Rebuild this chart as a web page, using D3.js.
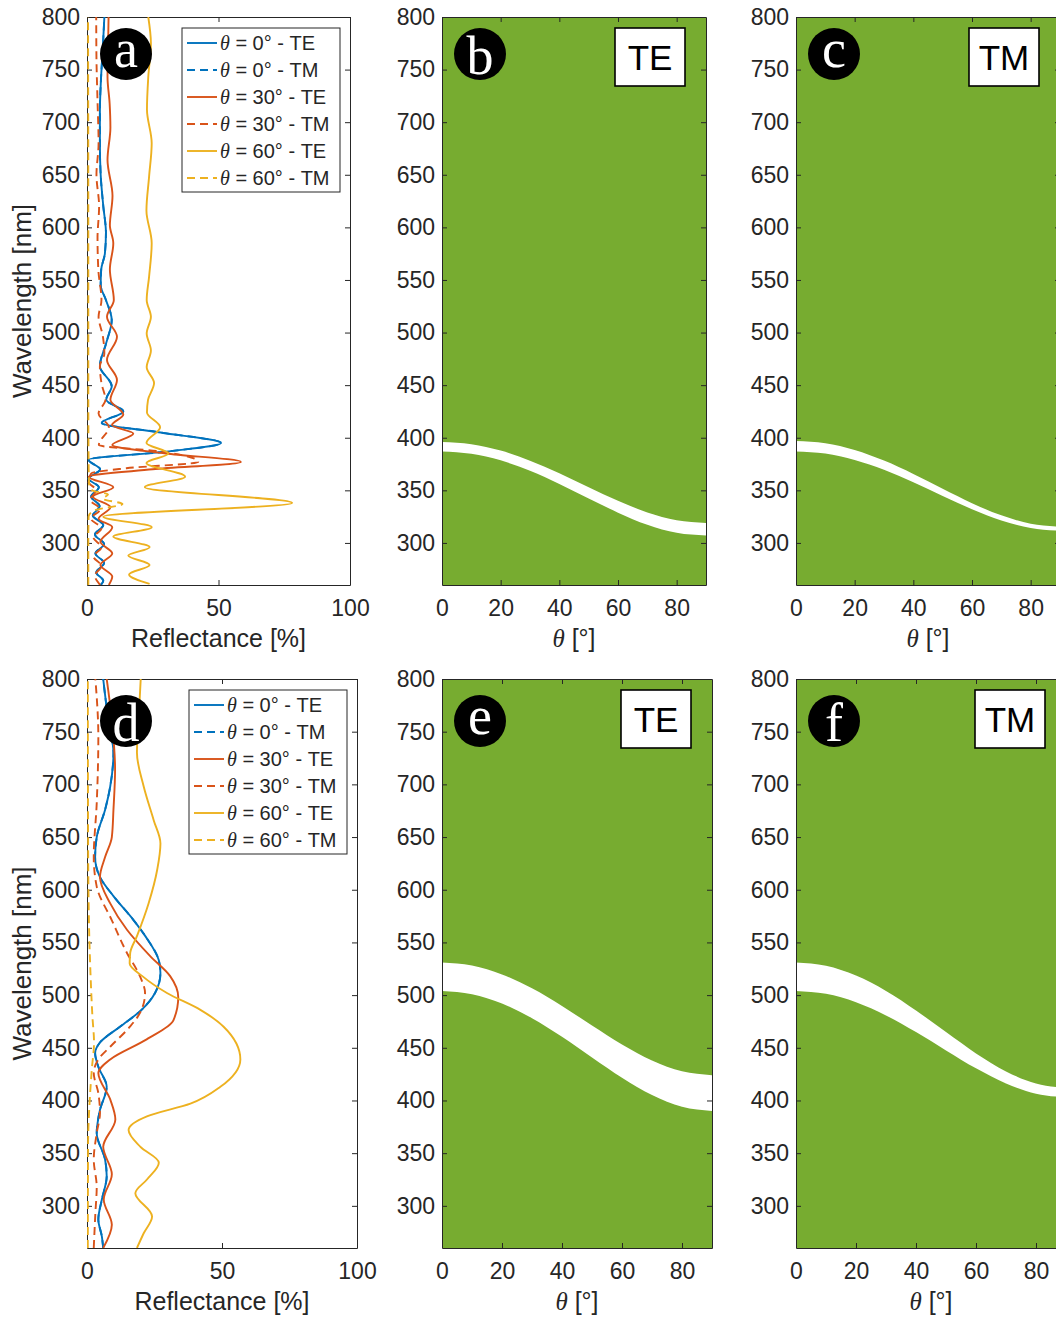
<!DOCTYPE html>
<html>
<head>
<meta charset="utf-8">
<script src="https://cdn.jsdelivr.net/npm/d3@7"></script>
<style>
  body { margin: 0; background: #fff; }
</style>
</head>
<body>
<svg id="fig" width="1056" height="1317"></svg>
<script>
// ---- data ----
const wlTicks = [300, 350, 400, 450, 500, 550, 600, 650, 700, 750, 800];
const reflTicks = [0, 50, 100];
const thetaTicks = [0, 20, 40, 60, 80];
const legendAngles = [0, 0, 30, 30, 60, 60];
const legendPols = ["TE", "TM", "TE", "TM", "TE", "TM"];

// panel a : [wavelength nm, reflectance %]
const a0TE = [[800,6.6],[770,6.0],[740,5.3],[710,4.9],[680,4.9],[650,5.2],[620,6.2],[595,7.2],[575,6.8],[560,5.4],[545,5.2],[531,7.2],
  [512,9.4],[490,7.3],[468,4.9],[449,9.4],[436,7.3],[425,13.8],[414,5.6],[405,28],[395,51],[387,31],[379,0.6],
  [370,5.0],[361,0.6],[353,4.5],[344,1.6],[335,4.8],[326,2.2],[317,6.2],[308,3.0],[299,6.5],[290,3.2],[281,6.5],[272,3.5],[264,6.2],[260,5.2]];
const a0TM = a0TE; // normal incidence: TE == TM
const a30TE = [[800,8.2],[770,8.0],[743,7.8],[718,8.6],[695,8.9],[664,7.8],[630,9.7],[602,8.7],[585,10],[560,8.7],
  [531,10.2],[515,7.6],[496,11.4],[474,7.6],[455,11.4],[436,8.9],[422,13.8],[412,9.5],[404,17.6],[393,9.6],[385,30],[377,58.5],[370,25],[363,0.6],
  [353,10],[344,2.3],[334,8.9],[323,4.4],[315,9.6],[301,5.1],[290,9.6],[279,5.1],[268,9.6],[260,8.3]];
const a30TM = [[800,3.5],[760,3.6],[720,4.0],[680,4.4],[650,3.6],[620,4.6],[590,4.0],[560,4.3],[531,5.5],
  [515,4.4],[497,6.0],[480,6.6],[468,4.9],[452,5.5],[436,7.0],[423,4.4],[410,8.3],[393,4.5],[387,27.8],[377,42.3],[371,15],[366,1.6],
  [358,0.6],[350,3.5],[341,1.2],[332,5.0],[323,1.5],[314,5.5],[305,2.5],[296,5.5],[287,2.5],[278,5.5],[269,3.0],[260,5.0]];
const a60TE = [[800,23.3],[775,24.3],[743,23.3],[712,22.8],[680,24.6],[648,23.6],[616,22.6],[585,24.6],[553,23.6],[531,22.7],
  [515,24.3],[499,22.7],[483,24.3],[467,22.7],[452,25.5],[436,23.2],[424,22.8],[410,27.8],[395,22.6],[385,30.9],[376,22.6],[363,37.3],[353,22],[338,78],[325,6.2],
  [315,24.6],[306,10],[296,23.8],[288,15.7],[279,23.8],[270,16],[261,23.8]];
const a60TM = [[800,0.4],[600,0.5],[450,0.5],[380,0.6],[356,0.8],[350,2],[346,8],[342,6],[337,13.5],[331,3],[325,0.6],[300,0.5],[260,0.5]];

// panel d
const d0TE = [[800,6.0],[761,7.9],[730,9.8],[698,8.6],[676,6.7],[650,3.6],[631,3.0],[612,4.8],[594,9.8],[571,17.3],[556,21.6],[533,26.6],
  [521,27.2],[502,25.2],[486,20.2],[470,12.2],[455,4.8],[445,3.0],[432,4.2],[413,7.3],[391,4.8],[369,3.6],[344,6.7],[328,7.3],[306,5.5],[287,4.2],[271,5.5],[260,6.0]];
const d0TM = d0TE;
const d30TE = [[800,7.3],[761,9.2],[714,10.4],[676,9.8],[650,9.2],[631,6.7],[612,4.8],[587,8.6],[562,14.8],[537,23.4],[518,30.8],[498,33.8],
  [476,32],[458,22.1],[439,8.6],[426,4.2],[401,8.6],[382,10.5],[356,6.0],[330,9.2],[306,6.2],[282,9.2],[260,6.0]];
const d30TM = [[800,3.1],[745,4.2],[682,3.6],[631,2.5],[603,3.6],[571,9.2],[540,14.8],[518,19.6],[502,21.5],[486,20.2],[470,15.9],
  [451,8.6],[439,4.2],[426,2.5],[407,4.2],[388,4.8],[369,3.6],[344,2.5],[318,3.6],[293,3.1],[260,2.5]];
const d60TE = [[800,19.9],[761,19.1],[730,18.5],[698,21],[666,24.7],[644,27.2],[619,26],[587,22.8],[556,18.5],[540,16],[530,15.8],[518,20.5],
  [502,29.6],[486,42],[470,50.6],[439,56.8],[413,49.4],[397,38.3],[385,22.2],[372,15.4],[356,19.8],[341,26.6],[325,22.2],[312,17.9],[290,24.1],[274,21],[260,18.5]];
const d60TM = [[800,0.3],[650,0.4],[560,0.8],[520,1.3],[480,2.0],[455,2.6],[430,1.8],[400,1.0],[360,0.4],[260,0.3]];

// stop band edges (nm) vs incidence angle
const thetaGrid = [0, 10, 20, 30, 40, 50, 60, 70, 80, 90];
const bTop = [396, 393.9, 387.8, 378.2, 366.2, 352.9, 340.0, 329.0, 321.6, 319];
const bBot = [387, 384.8, 378.5, 368.6, 356.1, 342.3, 328.8, 317.3, 309.6, 307];
const cTop = [397, 394.8, 388.4, 378.3, 365.6, 351.5, 337.8, 326.2, 318.3, 315.5];
const cBot = [387, 384.9, 378.9, 369.6, 357.8, 344.7, 332.0, 321.3, 314.1, 311.5];
const eTop = [531, 528.1, 519.6, 506.4, 489.7, 471.2, 453.2, 438.0, 427.7, 424];
const eBot = [504, 500.9, 492.0, 478.1, 460.4, 440.7, 421.5, 405.1, 394.0, 390];
const fTop = [531, 527.8, 518.5, 503.9, 485.4, 464.9, 444.7, 427.6, 416.1, 412];
const fBot = [504, 501.2, 493.3, 480.7, 464.9, 447.5, 430.5, 416.1, 406.4, 403];

// ---- drawing ----
const svg = d3.select("#fig");
const sans = '"Liberation Sans", Arial, sans-serif';
const serif = '"Liberation Serif", "Times New Roman", serif';
const ink = "#262626";
const colors = { 0: "#0072BD", 30: "#D95319", 60: "#EDB120" };
const green = "#77AC30";
const wlDomain = [260, 800];

function styleAxis(sel) {
  sel.attr("font-size", 23).attr("font-family", sans).attr("color", ink);
  sel.select(".domain").attr("stroke-width", 1);
  sel.selectAll(".tick line").attr("stroke-width", 1);
}

function drawAxes(g, x, y, xTicks) {
  const [x0, x1] = x.range();
  const [y1, y0] = y.range();
  g.append("g").attr("transform", `translate(${x0},0)`)
    .call(d3.axisLeft(y).tickValues(wlTicks).tickSizeInner(-5).tickSizeOuter(0).tickPadding(7))
    .call(styleAxis);
  g.append("g").attr("transform", `translate(${x1},0)`)
    .call(d3.axisRight(y).tickValues(wlTicks).tickSizeInner(-5).tickSizeOuter(0).tickFormat(() => ""))
    .call(styleAxis);
  g.append("g").attr("transform", `translate(0,${y1})`)
    .call(d3.axisBottom(x).tickValues(xTicks).tickSizeInner(-5).tickSizeOuter(0).tickPadding(15))
    .call(styleAxis);
  g.append("g").attr("transform", `translate(0,${y0})`)
    .call(d3.axisTop(x).tickValues(xTicks).tickSizeInner(-5).tickSizeOuter(0).tickFormat(() => ""))
    .call(styleAxis);
}

function badge(g, cx, cy, letter) {
  g.append("circle").attr("cx", cx).attr("cy", cy).attr("r", 26).attr("fill", "#000");
  g.append("text").attr("x", cx).attr("y", cy + ("bdf".includes(letter) ? 20 : 13))
    .attr("text-anchor", "middle").attr("font-family", serif).attr("font-size", 54)
    .attr("fill", "#fff").text(letter);
}

function wavelengthLabel(cy) {
  svg.append("text").attr("transform", `translate(31,${cy}) rotate(-90)`)
    .attr("text-anchor", "middle").attr("font-family", sans).attr("font-size", 26)
    .attr("fill", ink).text("Wavelength [nm]");
}

function linePanel(cfg) {
  const x = d3.scaleLinear().domain([0, 100]).range([cfg.x0, cfg.x1]);
  const y = d3.scaleLinear().domain(wlDomain).range([cfg.y1, cfg.y0]);
  const g = svg.append("g");
  const clipId = "clip-" + cfg.letter;
  g.append("clipPath").attr("id", clipId).append("rect")
    .attr("x", cfg.x0).attr("y", cfg.y0).attr("width", cfg.x1 - cfg.x0).attr("height", cfg.y1 - cfg.y0);

  drawAxes(g, x, y, reflTicks);

  const line = d3.line().x(d => x(d[1])).y(d => y(d[0])).curve(d3.curveMonotoneY);
  const lines = g.append("g").attr("clip-path", `url(#${clipId})`);
  cfg.series.forEach((s, i) => {
    const pts = s.slice().sort((p, q) => p[0] - q[0]);
    lines.append("path").datum(pts).attr("d", line)
      .attr("fill", "none").attr("stroke", colors[legendAngles[i]]).attr("stroke-width", 1.9)
      .attr("stroke-dasharray", legendPols[i] === "TM" ? "8,5" : null);
  });

  // legend
  const w = 158, h = 164;
  const lx = cfg.x1 - 10 - w, ly = cfg.y0 + 11;
  const lg = g.append("g");
  lg.append("rect").attr("x", lx).attr("y", ly).attr("width", w).attr("height", h)
    .attr("fill", "#fff").attr("stroke", ink).attr("stroke-width", 1);
  legendAngles.forEach((ang, i) => {
    const cy = ly + 15 + 27 * i;
    lg.append("line").attr("x1", lx + 5).attr("x2", lx + 35).attr("y1", cy).attr("y2", cy)
      .attr("stroke", colors[ang]).attr("stroke-width", 1.9)
      .attr("stroke-dasharray", legendPols[i] === "TM" ? "8,5" : null);
    const t = lg.append("text").attr("x", lx + 38).attr("y", cy + 7)
      .attr("font-family", sans).attr("font-size", 20).attr("fill", ink);
    t.append("tspan").attr("font-family", serif).attr("font-style", "italic").text("θ");
    t.append("tspan").text(` = ${ang}° - ${legendPols[i]}`);
  });

  badge(g, cfg.x0 + 39, cfg.y0 + cfg.badgeDy, cfg.letter);

  g.append("text").attr("x", (cfg.x0 + cfg.x1) / 2).attr("y", cfg.y1 + 62)
    .attr("text-anchor", "middle").attr("font-family", sans).attr("font-size", 25)
    .attr("fill", ink).text("Reflectance [%]");
  wavelengthLabel((cfg.y0 + cfg.y1) / 2);
}

function bandPanel(cfg) {
  const x = d3.scaleLinear().domain([0, 90]).range([cfg.x0, cfg.x1]);
  const y = d3.scaleLinear().domain(wlDomain).range([cfg.y1, cfg.y0]);
  const g = svg.append("g");

  g.append("rect").attr("x", cfg.x0).attr("y", cfg.y0)
    .attr("width", cfg.x1 - cfg.x0).attr("height", cfg.y1 - cfg.y0).attr("fill", green);

  const band = thetaGrid.map((t, i) => ({ theta: t, top: cfg.top[i], bot: cfg.bot[i] }));
  g.append("path").datum(band)
    .attr("d", d3.area().x(d => x(d.theta)).y0(d => y(d.bot)).y1(d => y(d.top)).curve(d3.curveMonotoneX))
    .attr("fill", "#fff");

  drawAxes(g, x, y, thetaTicks);
  badge(g, cfg.x0 + 38, cfg.y0 + cfg.badgeDy, cfg.letter);

  const bx = cfg.x1 - 21 - 70, by = cfg.y0 + 11;
  g.append("rect").attr("x", bx).attr("y", by).attr("width", 70).attr("height", 58)
    .attr("fill", "#fff").attr("stroke", "#000").attr("stroke-width", 1.6);
  g.append("text").attr("x", bx + 35).attr("y", by + 29 + 12.5).attr("text-anchor", "middle")
    .attr("font-family", sans).attr("font-size", 35).attr("fill", "#000").text(cfg.pol);

  const t = g.append("text").attr("x", (cfg.x0 + cfg.x1) / 2).attr("y", cfg.y1 + 62)
    .attr("text-anchor", "middle").attr("font-family", sans).attr("font-size", 25).attr("fill", ink);
  t.append("tspan").attr("font-family", serif).attr("font-style", "italic").text("θ");
  t.append("tspan").text(" [°]");
}

linePanel({ letter: "a", x0: 87, x1: 350, y0: 17, y1: 585, badgeDy: 37,
  series: [a0TE, a0TM, a30TE, a30TM, a60TE, a60TM] });
bandPanel({ letter: "b", pol: "TE", x0: 442, x1: 706, y0: 17, y1: 585, badgeDy: 37, top: bTop, bot: bBot });
bandPanel({ letter: "c", pol: "TM", x0: 796, x1: 1060, y0: 17, y1: 585, badgeDy: 37, top: cTop, bot: cBot });

linePanel({ letter: "d", x0: 87, x1: 357, y0: 679, y1: 1248, badgeDy: 42,
  series: [d0TE, d0TM, d30TE, d30TM, d60TE, d60TM] });
bandPanel({ letter: "e", pol: "TE", x0: 442, x1: 712, y0: 679, y1: 1248, badgeDy: 42, top: eTop, bot: eBot });
bandPanel({ letter: "f", pol: "TM", x0: 796, x1: 1066, y0: 679, y1: 1248, badgeDy: 42, top: fTop, bot: fBot });
</script>
</body>
</html>
